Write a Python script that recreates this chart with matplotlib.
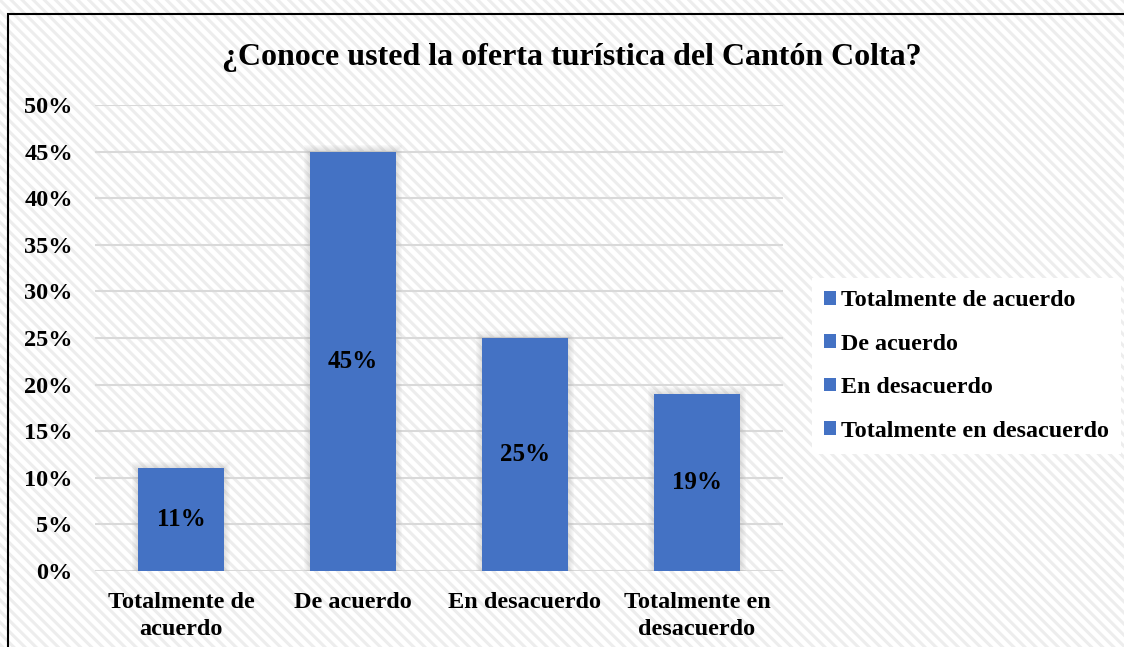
import numpy as np
import matplotlib
matplotlib.use("Agg")
import matplotlib.pyplot as plt
from matplotlib.patches import Rectangle, Patch

plt.rcParams['font.family'] = ['Liberation Serif', 'DejaVu Serif']
plt.rcParams['font.weight'] = 'bold'
plt.rcParams['hatch.linewidth'] = 2.2

# data
categories = ["Totalmente de acuerdo", "De acuerdo", "En desacuerdo", "Totalmente en desacuerdo"]
tick_labels = ["Totalmente de\nacuerdo", "De acuerdo", "En desacuerdo", "Totalmente en\ndesacuerdo"]
values = [0.11, 0.45, 0.25, 0.19]
title = "¿Conoce usted la oferta turística del Cantón Colta?"

bar_color = "#4472C4"

fig = plt.figure(figsize=(11.24, 6.47), dpi=100)

# striped background
bg = Rectangle((0, 0), 1, 1, transform=fig.transFigure, facecolor="white",
               edgecolor="#ededed", hatch="\\\\\\", linewidth=0, zorder=-10)
fig.patches.append(bg)
# chart border (top & left visible)
border = Rectangle((8 / 1124, -0.05), 1.1, 1.05 - 14 / 647, transform=fig.transFigure,
                   fill=False, edgecolor="black", linewidth=1.5, zorder=-5)
fig.patches.append(border)

ax = fig.add_axes([95 / 1124, 76 / 647, 688 / 1124, 466 / 647])
ax.set_facecolor("none")

x = np.arange(len(values))

# soft shadow around bars
for k in range(6, 0, -1):
    ax.bar(x, np.array(values) + 0.0012 * k, width=0.5 + 0.012 * k,
           color="#9a9a9a", alpha=0.05, zorder=2, linewidth=0)

ax.bar(x, values, width=0.5, color=bar_color, zorder=3)

for xi, v in zip(x, values):
    ax.text(xi, v / 2, f"{v * 100:.0f}%", ha="center", va="center",
            fontsize=18, fontweight="bold", color="black", zorder=4)

ax.set_xlim(-0.5, len(values) - 0.5)
ax.set_ylim(0, 0.5)
ax.set_yticks(np.arange(0, 0.51, 0.05))
ax.set_yticklabels([f"{t * 100:.0f}%" for t in np.arange(0, 0.51, 0.05)])
ax.set_xticks(x)
ax.set_xticklabels(tick_labels, linespacing=1.38)
ax.tick_params(axis="y", length=0, pad=16, labelsize=17.5)
ax.tick_params(axis="x", length=0, pad=15, labelsize=17.5)
ax.yaxis.grid(True, color="#d9d9d9", linewidth=1.5, zorder=0)
ax.set_axisbelow(True)
for s in ax.spines.values():
    s.set_visible(False)

fig.text(572 / 1124, 1 - 58 / 647, title, ha="center", va="center",
         fontsize=23, fontweight="bold")

handles = [Patch(facecolor=bar_color, edgecolor="none") for _ in categories]
leg = fig.legend(handles, categories, loc="center left",
                 bbox_to_anchor=(812 / 1124, 1 - 366 / 647),
                 frameon=True, fancybox=False, fontsize=17.3,
                 handlelength=0.5, handleheight=0.5, handletextpad=0.22,
                 labelspacing=0.93, borderpad=0.5, borderaxespad=0)
leg.get_frame().set_facecolor("white")
leg.get_frame().set_edgecolor("none")
leg.get_frame().set_alpha(1)

fig.savefig("out.png", dpi=100)
